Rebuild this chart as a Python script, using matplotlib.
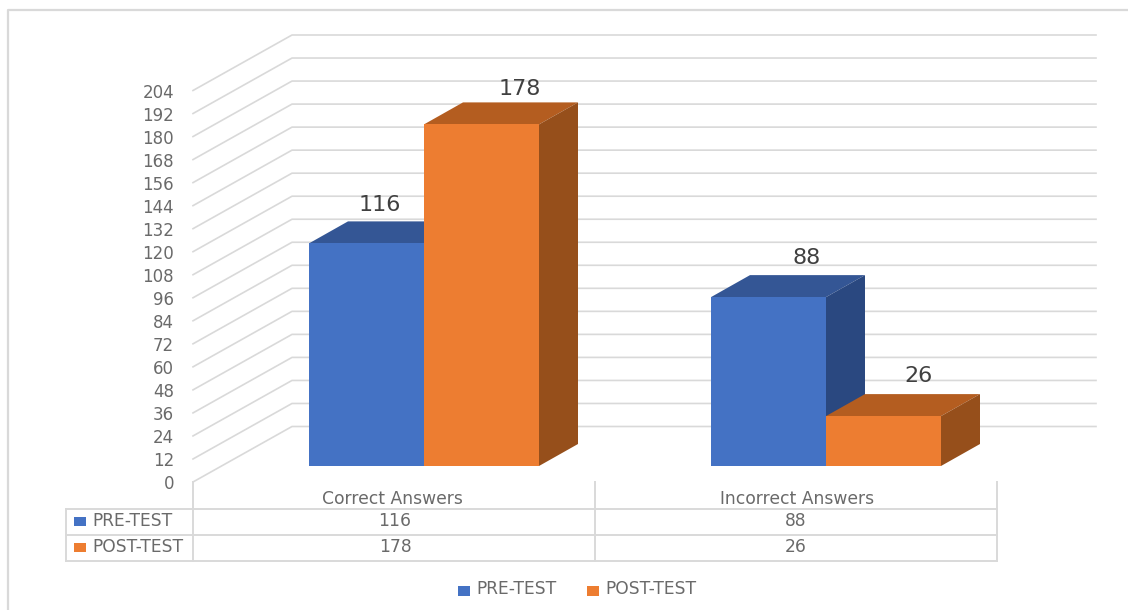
import matplotlib
matplotlib.use("Agg")
import matplotlib.pyplot as plt
from matplotlib.lines import Line2D
from matplotlib.patches import Polygon, Rectangle
from matplotlib.transforms import Affine2D

plt.rcParams['font.family'] = ['DejaVu Sans']

categories = ["Correct Answers", "Incorrect Answers"]
series_names = ["PRE-TEST", "POST-TEST"]
pre_test = [116, 88]
post_test = [178, 26]
y_ticks = list(range(0, 205, 12))

W, H = 1128, 610
blue, blue_top, blue_side = "#4472C4", "#345695", "#2A4880"
orange, orange_top, orange_side = "#ED7D31", "#B45D20", "#964F1B"
grid_color = "#D9D9D9"
text_color = "#6A6A6A"
label_color = "#404040"


def fx(x):
    return x / W


def fy(y):
    return 1 - y / H


def fig_line(xs, ys, lw=1.4, color=grid_color):
    fig.add_artist(Line2D([fx(x) for x in xs], [fy(y) for y in ys], color=color, lw=lw))


def swatch(x, y, w, h, color):
    fig.add_artist(Rectangle((fx(x), fy(y + h)), w / W, h / H, color=color, lw=0,
                             transform=fig.transFigure))


fig = plt.figure(figsize=(W / 100, H / 100), dpi=100, facecolor="white")

# axes spans the front edge of the left wall, y=0 at pixel 482 and 204 at 90.5
ax = fig.add_axes([fx(193), fy(482), (1096 - 193) / W, (482 - 90.5) / H])
px_per_cat = 402
px_per_val = (482 - 90.5) / 204
x0_px = 424  # category 0 centre on the bars front plane
ax.set_xlim((193 - x0_px) / px_per_cat, (1096 - x0_px) / px_per_cat)
ax.set_ylim(0, 204)
ax.patch.set_visible(False)
for s in ax.spines.values():
    s.set_visible(False)
ax.set_xticks([])
ax.set_yticks(y_ticks)
ax.tick_params(axis='y', length=0, pad=13.5, labelsize=12, labelcolor=text_color)

# walls: side wall goes up and right, back wall on to the right edge
back_x = (292 - x0_px) / px_per_cat
wall_dy = 55.5 / px_per_val
x_left, x_right = ax.get_xlim()
for t in y_ticks:
    ax.plot([x_left, back_x, x_right], [t, t + wall_dy, t + wall_dy],
            color=grid_color, lw=1.2, clip_on=False, zorder=1)

# bars stand 16 px above the axis zero, on the floor
shift = ax.transData + Affine2D().translate(0, 16)
bar_w = 115 / px_per_cat
dx = 39 / px_per_cat
dy = 22 / px_per_val


def bar3d(x_left_edge, value, front, top, side, z):
    x1 = x_left_edge + bar_w
    ax.bar(x_left_edge, value, bar_w, align='edge', color=front, transform=shift,
           clip_on=False, zorder=z + 0.2, linewidth=0)
    ax.add_patch(Polygon([(x_left_edge, value), (x1, value), (x1 + dx, value + dy),
                          (x_left_edge + dx, value + dy)],
                         facecolor=top, lw=0, transform=shift, clip_on=False, zorder=z))
    ax.add_patch(Polygon([(x1, 0), (x1 + dx, dy), (x1 + dx, value + dy), (x1, value)],
                         facecolor=side, lw=0, transform=shift, clip_on=False, zorder=z))


label_offsets = [[(13, 38), (38, 35)], [(38, 39), (35, 40)]]
for i in range(len(categories)):
    bar3d(i - bar_w, pre_test[i], blue, blue_top, blue_side, 2)
    bar3d(i, post_test[i], orange, orange_top, orange_side, 3)
    for j, val in enumerate((pre_test[i], post_test[i])):
        xc = i - bar_w / 2 + j * bar_w + label_offsets[i][j][0] / px_per_cat
        yc = val + label_offsets[i][j][1] / px_per_val
        ax.text(xc, yc, str(val), ha='center', va='center', fontsize=16,
                color=label_color, transform=shift, zorder=5)

# data table under the plot
for y in (509, 535, 561):
    fig_line([66, 997], [y, y])
fig_line([66, 66], [509, 561])
for x in (193, 595, 997):
    fig_line([x, x], [482, 561])

cat_x = [392, 797]
val_x = [395, 796]
for i, cat in enumerate(categories):
    fig.text(fx(cat_x[i]), fy(498.5), cat, ha='center', va='center', fontsize=12.3, color=text_color)
    fig.text(fx(val_x[i]), fy(521), str(pre_test[i]), ha='center', va='center', fontsize=12.3, color=text_color)
    fig.text(fx(val_x[i]), fy(547), str(post_test[i]), ha='center', va='center', fontsize=12.3, color=text_color)

for name, color, y in zip(series_names, (blue, orange), (521, 547)):
    swatch(74, y - 4.5, 12, 9, color)
    fig.text(fx(92), fy(y), name, ha='left', va='center', fontsize=12.3, color=text_color)

# legend at the bottom
for name, color, sx in zip(series_names, (blue, orange), (458, 587)):
    swatch(sx, 585.5, 12, 10, color)
    fig.text(fx(sx + 18), fy(589), name, ha='left', va='center', fontsize=12.3, color=text_color)

# chart frame, open on the right and at the bottom
fig_line([8, 8, 1128], [610, 10, 10], lw=1.6)

fig.savefig("out.png", dpi=100, facecolor="white")
